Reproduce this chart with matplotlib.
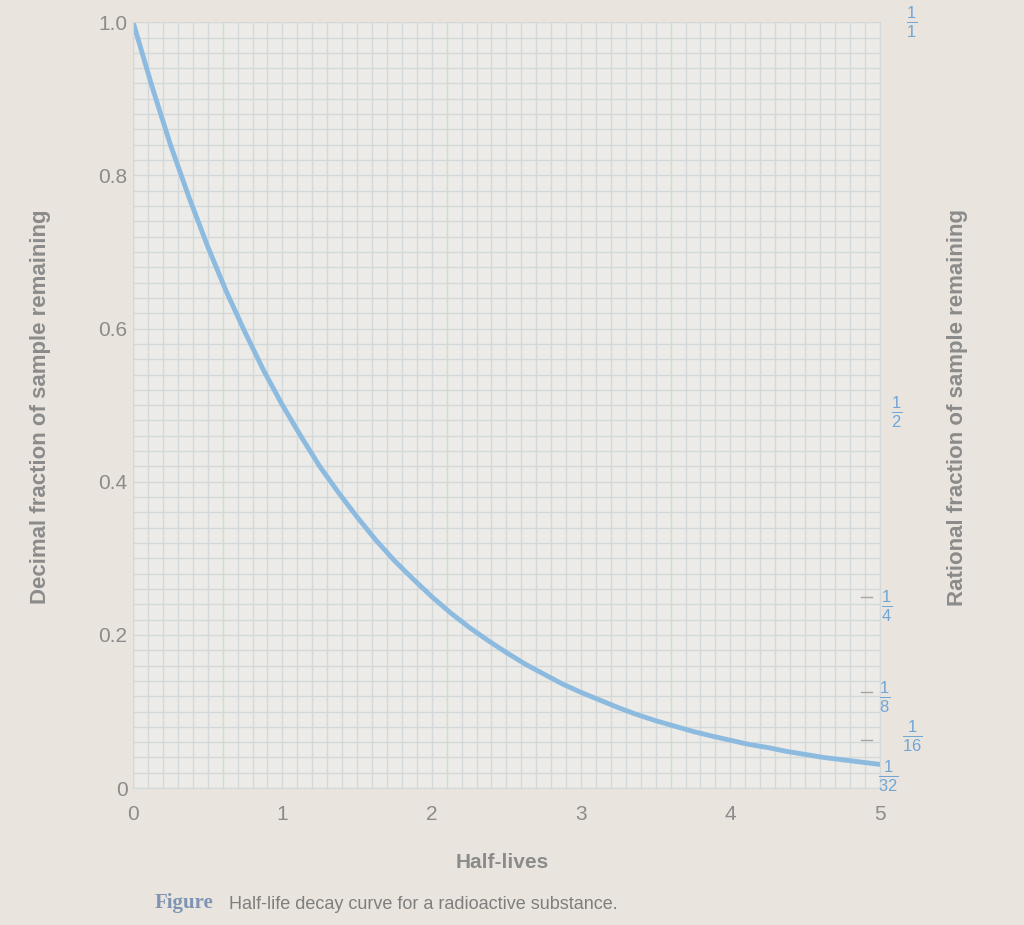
import matplotlib.pyplot as plt
from matplotlib.ticker import MultipleLocator
import matplotlib.transforms as mtransforms

# data
half_lives = [0, 0.125, 0.25, 0.375, 0.5, 0.625, 0.75, 0.875, 1.0, 1.125, 1.25, 1.375,
              1.5, 1.625, 1.75, 1.875, 2.0, 2.125, 2.25, 2.375, 2.5, 2.625, 2.75, 2.875,
              3.0, 3.125, 3.25, 3.375, 3.5, 3.625, 3.75, 3.875, 4.0, 4.125, 4.25, 4.375,
              4.5, 4.625, 4.75, 4.875, 5.0]
remaining = [1.0, 0.917, 0.84, 0.771, 0.707, 0.648, 0.595, 0.545, 0.50, 0.459, 0.42, 0.386,
             0.354, 0.324, 0.297, 0.273, 0.25, 0.229, 0.21, 0.193, 0.177, 0.162, 0.149, 0.136,
             0.125, 0.115, 0.105, 0.096, 0.088, 0.081, 0.074, 0.068, 0.0625, 0.057, 0.053, 0.048,
             0.044, 0.040, 0.037, 0.034, 0.031]

xticks = [0, 1, 2, 3, 4, 5]
yticks = [0, 0.2, 0.4, 0.6, 0.8, 1.0]
ytick_labels = ['0', '0.2', '0.4', '0.6', '0.8', '1.0']

frac_values = [1.0, 0.5, 0.25, 0.125, 0.0625, 0.03125]
frac_labels = [r'$\frac{1}{1}$', r'$\frac{1}{2}$', r'$\frac{1}{4}$',
               r'$\frac{1}{8}$', r'$\frac{1}{16}$', r'$\frac{1}{32}$']
frac_xpos = [1.043, 1.023, 1.010, 1.007, 1.043, 1.012]
frac_dy = [0.0, -0.01, -0.012, -0.006, 0.005, -0.016]
tick_marks = [0.25, 0.125, 0.0625]

bg = '#e9e5de'
txt = '#8b8b8b'
blue = '#6fa6d6'

plt.rcParams['font.family'] = ['Liberation Sans', 'DejaVu Sans']
plt.rcParams['mathtext.fontset'] = 'custom'
plt.rcParams['mathtext.rm'] = 'Liberation Sans'
plt.rcParams['mathtext.it'] = 'Liberation Sans'

fig = plt.figure(figsize=(10.24, 9.25), dpi=100, facecolor=bg)
ax = fig.add_axes([0.130, 0.148, 0.729, 0.828])
ax.set_facecolor('#ecebe7')

ax.set_xlim(0, 5)
ax.set_ylim(0, 1.0)
ax.xaxis.set_minor_locator(MultipleLocator(0.1))
ax.yaxis.set_minor_locator(MultipleLocator(0.02))
ax.grid(which='both', color='#d3d8da', lw=1.0)
ax.set_axisbelow(True)
for s in ax.spines.values():
    s.set_color('#d3d8da')

ax.plot(half_lives, remaining, color='#8dbbe0', lw=3.5, solid_capstyle='round')

ax.set_xticks(xticks)
ax.set_xticklabels([str(t) for t in xticks])
ax.set_yticks(yticks)
ax.set_yticklabels(ytick_labels)
ax.tick_params(which='both', length=0, colors=txt, labelsize=15)
ax.tick_params(axis='x', pad=12)
ax.tick_params(axis='y', pad=4)

# rational fractions on the right
trans = mtransforms.blended_transform_factory(ax.transAxes, ax.transData)
for v, lab, xp, dy in zip(frac_values, frac_labels, frac_xpos, frac_dy):
    ax.text(xp, v + dy, lab, transform=trans, color=blue, fontsize=17,
            ha='center', va='center', clip_on=False)
for v in tick_marks:
    ax.plot([0.975, 0.99], [v, v], transform=trans, color='#a5a5a5', lw=1.0)

fig.text(0.040, 0.56, 'Decimal fraction of sample remaining', rotation=90,
         ha='center', va='center', color=txt, fontsize=16, fontweight='bold')
fig.text(0.935, 0.56, 'Rational fraction of sample remaining', rotation=90,
         ha='center', va='center', color=txt, fontsize=16, fontweight='bold')
fig.text(0.49, 0.068, 'Half-lives', ha='center', va='center', color=txt,
         fontsize=15, fontweight='bold')

fig.text(0.151, 0.024, 'Figure', ha='left', va='center', color='#7f94b3',
         fontsize=15, fontweight='bold', family=['Liberation Serif'])
fig.text(0.224, 0.022, 'Half-life decay curve for a radioactive substance.',
         ha='left', va='center', color='#7e7e7e', fontsize=13)

fig.savefig('out.png', dpi=100, facecolor=bg)
